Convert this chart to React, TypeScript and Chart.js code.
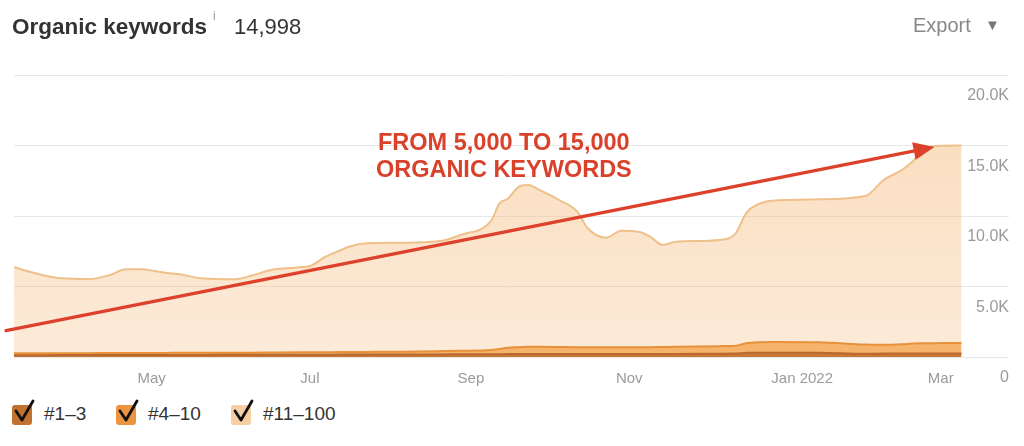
import React, { useEffect, useRef } from "react";
import { Chart, registerables } from "chart.js";

Chart.register(...registerables);

// day 0 = 9 Mar 2021
const days = [0, 6, 18, 29, 37, 43, 49, 54, 58, 64, 72, 85, 91, 99, 110, 114, 120, 126, 129, 136, 149, 165, 172, 184, 187, 190, 195, 198, 203, 210, 217, 221, 228, 234, 241, 245, 250, 255, 272, 278, 282, 286, 292, 310, 328, 335, 342, 346, 349, 353, 358, 365];
const kw1to3 = [130, 130, 135, 135, 140, 140, 140, 145, 145, 150, 150, 155, 155, 160, 160, 165, 165, 170, 170, 170, 180, 185, 190, 200, 200, 205, 210, 210, 210, 210, 210, 210, 210, 215, 215, 215, 220, 220, 230, 240, 300, 310, 310, 300, 230, 240, 250, 250, 250, 250, 250, 250];
const kw4to10 = [130, 130, 135, 135, 140, 140, 150, 145, 145, 150, 150, 155, 155, 160, 170, 165, 175, 180, 180, 190, 200, 235, 250, 300, 360, 445, 490, 510, 510, 500, 490, 490, 480, 475, 485, 485, 490, 500, 540, 560, 680, 730, 750, 740, 650, 620, 650, 700, 720, 730, 740, 740];
const kw11to100 = [6100, 5790, 5310, 5260, 5535, 5940, 5930, 5810, 5690, 5565, 5280, 5200, 5435, 5850, 6030, 6120, 6770, 7240, 7470, 7700, 7725, 7830, 8210, 9215, 10340, 10555, 11430, 11480, 11075, 10425, 9605, 8430, 7770, 8267, 8165, 7830, 7235, 7460, 7530, 7970, 9210, 9740, 10025, 10145, 10540, 11690, 12360, 12900, 13475, 13935, 14000, 14008];

const tickDays = [53, 114, 176, 237, 298, 357];
const tickLabels = ["May", "Jul", "Sep", "Nov", "Jan 2022", "Mar"];
const yTickValues = [0, 5000, 10000, 15000, 20000];
const seriesNames = ["#1–3", "#4–10", "#11–100"];
const seriesLines = ["#b9692d", "#e8913b", "#efc08a"];
const seriesBoxes = ["#c2722f", "#ec9442", "#f6cfa4"];
const totalKeywords = "14,998";
const annotationLines = ["FROM 5,000 TO 15,000", "ORGANIC KEYWORDS"];
const arrowFrom = { day: -3.1, value: 1870 };
const arrowTo = { day: 354.6, value: 14900 };
const labelAnchor = { day: 188.7, values: [14680, 12770] };

const FONT = '"Liberation Sans", Arial, Helvetica, sans-serif';

const annotationPlugin = {
  id: "arrowAnnotation",
  afterDatasetsDraw(chart: any) {
    const { ctx, scales } = chart;
    const xs = scales.x;
    const ys = scales.y;
    const x1 = xs.getPixelForValue(arrowFrom.day);
    const y1 = ys.getPixelForValue(arrowFrom.value);
    const x2 = xs.getPixelForValue(arrowTo.day);
    const y2 = ys.getPixelForValue(arrowTo.value);
    const ang = Math.atan2(y2 - y1, x2 - x1);
    const headLen = 21;
    const headW = 9;
    const bx = x2 - headLen * Math.cos(ang);
    const by = y2 - headLen * Math.sin(ang);
    ctx.save();
    ctx.strokeStyle = "#de412b";
    ctx.fillStyle = "#de412b";
    ctx.lineWidth = 3.2;
    ctx.lineCap = "round";
    ctx.beginPath();
    ctx.moveTo(x1, y1);
    ctx.lineTo(bx + 2 * Math.cos(ang), by + 2 * Math.sin(ang));
    ctx.stroke();
    ctx.beginPath();
    ctx.moveTo(x2, y2);
    ctx.lineTo(bx + headW * Math.sin(ang), by - headW * Math.cos(ang));
    ctx.lineTo(bx - headW * Math.sin(ang), by + headW * Math.cos(ang));
    ctx.closePath();
    ctx.fill();
    ctx.font = `bold 23.5px ${FONT}`;
    ctx.textAlign = "center";
    ctx.textBaseline = "alphabetic";
    ctx.fillStyle = "#d9412b";
    const lx = xs.getPixelForValue(labelAnchor.day);
    annotationLines.forEach((t, i) => {
      ctx.fillText(t, lx, ys.getPixelForValue(labelAnchor.values[i]));
    });
    ctx.restore();
  },
};

export default function App() {
  const ref = useRef<HTMLCanvasElement>(null);
  useEffect(() => {
    const series = [kw1to3, kw4to10, kw11to100];
    const chart = new Chart(ref.current as HTMLCanvasElement, {
      type: "line",
      data: {
        datasets: series.map((vals, si) => ({
          label: seriesNames[si],
          data: days.map((d, i) => ({ x: d, y: vals[i] })),
          borderColor: seriesLines[si],
          borderWidth: 2,
          pointRadius: 0,
          cubicInterpolationMode: "monotone" as const,
          fill: si === 0 ? "origin" : "-1",
          backgroundColor:
            si === 0
              ? "#c67834"
              : si === 1
              ? "#f5b36c"
              : (ctx: any) => {
                  const ca = ctx.chart.chartArea;
                  if (!ca) return "rgba(246,190,130,0.4)";
                  const g = ctx.chart.ctx.createLinearGradient(0, ca.top, 0, ca.bottom);
                  g.addColorStop(0, "rgba(245,184,120,0.52)");
                  g.addColorStop(1, "rgba(245,184,120,0.28)");
                  return g;
                },
        })),
      },
      options: {
        animation: false,
        responsive: true,
        maintainAspectRatio: false,
        layout: { padding: { left: 14, right: 15, top: 75, bottom: 0 } },
        plugins: { legend: { display: false }, tooltip: { enabled: false } },
        scales: {
          x: {
            type: "linear",
            min: 0,
            max: 383.3,
            grid: { display: false },
            border: { display: false },
            afterBuildTicks: (axis: any) => {
              axis.ticks = tickDays.map((v) => ({ value: v }));
            },
            ticks: {
              autoSkip: false,
              maxRotation: 0,
              padding: 5,
              color: "#9a9a9a",
              font: { family: FONT, size: 15 },
              callback: (v: any) => {
                const i = tickDays.indexOf(Number(v));
                const l = i >= 0 ? tickLabels[i] : "";
                return l.includes(" ") ? "       " + l : l;
              },
            },
          },
          y: {
            position: "right",
            stacked: true,
            min: 0,
            max: 20000,
            afterBuildTicks: (axis: any) => {
              axis.ticks = yTickValues.map((v) => ({ value: v }));
            },
            grid: { color: "#e8e8e8", drawTicks: false, lineWidth: 1 },
            border: { display: false },
            ticks: {
              mirror: true,
              labelOffset: 21,
              padding: 0,
              color: "#9a9a9a",
              font: { family: FONT, size: 16 },
              callback: (v: any) => (Number(v) === 0 ? "0" : (Number(v) / 1000).toFixed(1) + "K"),
            },
          },
        },
      },
      plugins: [annotationPlugin],
    });
    return () => chart.destroy();
  }, []);

  const legendX = [12, 116, 231];
  return (
    <div
      style={{
        position: "absolute",
        left: 0,
        top: 0,
        width: 1024,
        height: 446,
        background: "#fff",
        overflow: "hidden",
        fontFamily: FONT,
      }}
    >
      <div style={{ position: "absolute", left: 0, top: 0, width: 1024, height: 393 }}>
        <canvas ref={ref} />
      </div>
      <div style={{ position: "absolute", left: 12, top: 14, lineHeight: "26px", fontSize: 22.5, fontWeight: "bold", color: "#333", whiteSpace: "nowrap" }}>
        Organic keywords
      </div>
      <div style={{ position: "absolute", left: 213, top: 10, lineHeight: "12px", fontSize: 12, color: "#999" }}>i</div>
      <div style={{ position: "absolute", left: 234, top: 14, lineHeight: "26px", fontSize: 22, color: "#333" }}>{totalKeywords}</div>
      <div style={{ position: "absolute", left: 913, top: 12, lineHeight: "26px", fontSize: 20, color: "#888" }}>Export</div>
      <div style={{ position: "absolute", left: 985, top: 15, lineHeight: "20px", fontSize: 15, color: "#777" }}>▼</div>
      {seriesNames.map((n, i) => (
        <div key={n}>
          <div
            style={{
              position: "absolute",
              left: legendX[i],
              top: 405,
              width: 20,
              height: 20,
              borderRadius: 3,
              background: seriesBoxes[i],
            }}
          />
          <svg style={{ position: "absolute", left: legendX[i], top: 399 }} width={26} height={27}>
            <polyline points="4,12 10,21 21,2" fill="none" stroke="#111" strokeWidth={2.8} strokeLinecap="round" strokeLinejoin="round" />
          </svg>
          <div style={{ position: "absolute", left: legendX[i] + 32, top: 402, lineHeight: "24px", fontSize: 19, color: "#333", whiteSpace: "nowrap" }}>
            {n}
          </div>
        </div>
      ))}
    </div>
  );
}
